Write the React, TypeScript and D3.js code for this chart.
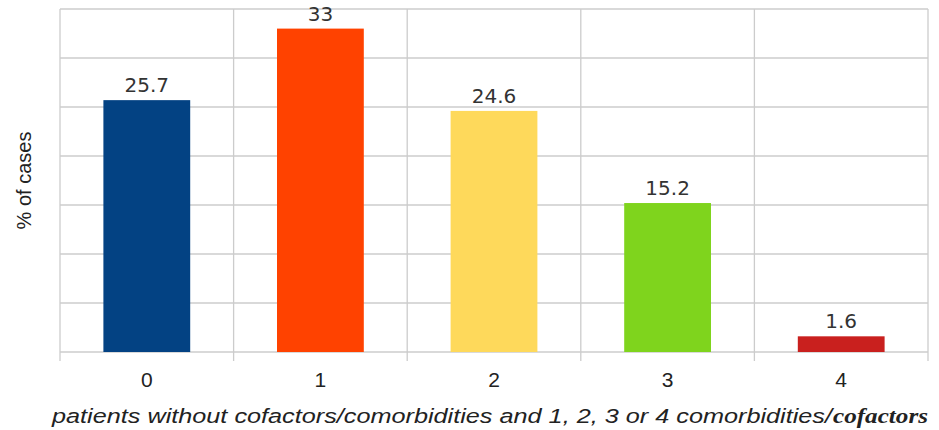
import React from "react";
import * as d3 from "d3";

const categories = ["0", "1", "2", "3", "4"];
const values = [25.7, 33, 24.6, 15.2, 1.6];
const colors = ["#034283", "#ff4200", "#fed95b", "#7fd41d", "#c9201e"];
const yTicks = [0, 5, 10, 15, 20, 25, 30, 35];
const yTitle = "% of cases";
const xTitleMain = "patients without cofactors/comorbidities and 1, 2, 3 or 4 comorbidities/";
const xTitleTail = "cofactors";

const W = 939;
const H = 430;
const left = 60;
const right = 928;
const top = 9;
const bottom = 352;

export default function App() {
  const x = d3.scaleBand<string>().domain(categories).range([left, right]).paddingInner(0).paddingOuter(0);
  const y = d3.scaleLinear().domain([0, 35]).range([bottom, top]);
  const bw = x.bandwidth() * 0.5;
  const bounds = categories.map((c) => x(c) as number).concat([right]);

  return (
    <svg
      width={W}
      height={H}
      style={{ position: "absolute", left: 0, top: 0, background: "#fff" }}
    >
      {yTicks.map((t) => (
        <line key={"h" + t} x1={left} x2={right} y1={y(t)} y2={y(t)} stroke="#cccccc" strokeWidth={1.3} />
      ))}
      {bounds.map((b, i) => (
        <line key={"v" + i} x1={b} x2={b} y1={top} y2={bottom + 9} stroke="#cccccc" strokeWidth={1.3} />
      ))}
      {categories.map((c, i) => {
        const cx = (x(c) as number) + x.bandwidth() / 2;
        return (
          <g key={c}>
            <rect x={cx - bw / 2} y={y(values[i])} width={bw} height={bottom - y(values[i])} fill={colors[i]} />
            <text
              x={cx}
              y={y(values[i]) - 8}
              textAnchor="middle"
              fontFamily="DejaVu Sans"
              fontSize={20}
              fill="#333"
            >
              {values[i]}
            </text>
            <text x={cx} y={387} textAnchor="middle" fontFamily="Liberation Sans" fontSize={21} fill="#222">
              {c}
            </text>
          </g>
        );
      })}
      <text
        transform={`translate(31, ${(top + bottom) / 2}) rotate(-90)`}
        textAnchor="middle"
        fontFamily="Liberation Sans"
        fontSize={20}
        fill="#222"
      >
        {yTitle}
      </text>
      <text
        x={52}
        y={423}
        fontSize={20}
        fill="#222"
        fontFamily="Liberation Sans"
        fontStyle="italic"
        textLength={780}
        lengthAdjust="spacingAndGlyphs"
      >
        {xTitleMain}
      </text>
      <text
        x={833}
        y={423}
        fontSize={21}
        fill="#222"
        fontFamily="Liberation Serif"
        fontStyle="italic"
        fontWeight="bold"
        textLength={95}
        lengthAdjust="spacingAndGlyphs"
      >
        {xTitleTail}
      </text>
    </svg>
  );
}
